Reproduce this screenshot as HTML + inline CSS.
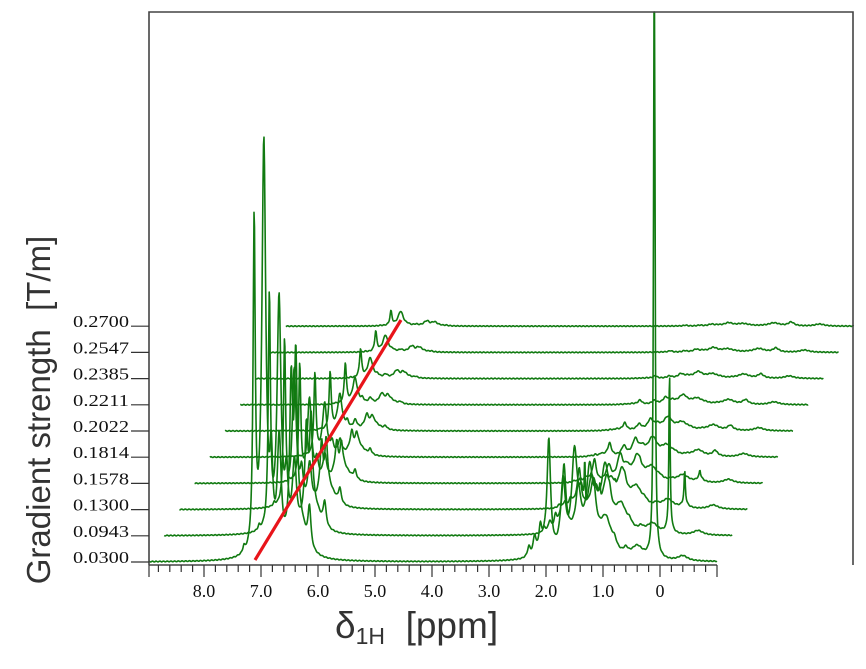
<!DOCTYPE html>
<html><head><meta charset="utf-8"><style>
html,body{margin:0;padding:0;background:#fff;}
svg{display:block;}
</style></head><body>
<svg id="s" width="866" height="669" xmlns="http://www.w3.org/2000/svg">
<rect x="0" y="0" width="866" height="669" fill="#fff"/>
<g id="traces" fill="none" stroke="#117a11" stroke-width="1.6" stroke-linejoin="round"></g>
<line x1="255" y1="560" x2="401" y2="320" stroke="#e8141a" stroke-width="3.2"/>
<g stroke="#444" stroke-width="1.6" fill="none">
<polyline points="149,565 149,12 853,12 853,565"/>
<line x1="149" y1="565" x2="717" y2="565"/>
</g>
<g id="ticks" stroke="#333" stroke-width="1.2"></g>
<g font-family="Liberation Serif, serif" font-size="18" fill="#111" text-anchor="middle">
<text x="204" y="597">8.0</text><text x="261" y="597">7.0</text><text x="318" y="597">6.0</text>
<text x="375" y="597">5.0</text><text x="432" y="597">4.0</text><text x="489" y="597">3.0</text>
<text x="546" y="597">2.0</text><text x="603" y="597">1.0</text><text x="660" y="597">0</text>
</g>
<g id="ylab" font-family="Liberation Serif, serif" font-size="17" fill="#111"></g>
<text transform="translate(50,410) rotate(-90)" text-anchor="middle" font-family="Liberation Sans, sans-serif" font-size="33" fill="#333">Gradient strength&#160;&#160;[T/m]</text>
<text x="335" y="638" font-family="Liberation Sans, sans-serif" font-size="37" fill="#333">δ<tspan font-size="23" dy="6">1H</tspan><tspan dy="-6">&#160;&#160;[ppm]</tspan></text>
</svg>
<script>
var NS="http://www.w3.org/2000/svg";
var tk=document.getElementById("ticks");
for(var i=0;i<=50;i++){var p=9.0-i*0.2;var x=660-57*p;if(x<149||x>718)continue;
 var maj=Math.abs(p-Math.round(p))<0.01;
 var l=document.createElementNS(NS,"line");l.setAttribute("x1",x);l.setAttribute("x2",x);
 l.setAttribute("y1",565);l.setAttribute("y2",maj?577:572);tk.appendChild(l);}
var l0=document.createElementNS(NS,"line");l0.setAttribute("x1",149);l0.setAttribute("x2",149);l0.setAttribute("y1",565);l0.setAttribute("y2",577);tk.appendChild(l0);
var labs=["0.0300","0.0943","0.1300","0.1578","0.1814","0.2022","0.2211","0.2385","0.2547","0.2700"];
var yl=document.getElementById("ylab");
var bases=[];
for(var k=0;k<10;k++){var b=562-k*26.2;bases.push(b);
 var t=document.createElementNS(NS,"text");t.setAttribute("x",73);t.setAttribute("y",b+1);t.setAttribute("textLength",56);t.setAttribute("lengthAdjust","spacingAndGlyphs");t.textContent=labs[k];yl.appendChild(t);
 var l=document.createElementNS(NS,"line");l.setAttribute("x1",131);l.setAttribute("x2",149);l.setAttribute("y1",b);l.setAttribute("y2",b);l.setAttribute("stroke","#333");l.setAttribute("stroke-width","1.2");tk.appendChild(l);}
var pk=[
 [7.12,330,0.022,0.35],[6.95,390,0.04,0.6],[6.82,80,0.03,0.5],[6.68,110,0.04,0.5],
 [6.47,150,0.03,0.55],[6.39,170,0.03,0.6],[6.15,40,0.03,0.5],[6.3,30,0.12,0.4],
 [7.3,6,0.02,0.3],[6.95,22,0.06,0.06],[6.5,10,0.06,0.1],[6.35,7,0.05,0.1],
 [2.3,10,0.03,0.6],[2.2,18,0.03,0.6],[2.1,22,0.03,0.6],[1.95,105,0.035,0.55],[2.0,15,0.1,0.5],
 [1.7,70,0.05,0.5],[1.5,95,0.06,0.45],[1.38,40,0.06,0.45],[1.32,50,0.008,1.2],[1.2,70,0.09,0.35],[1.15,8,0.02,0.5],
 [0.95,35,0.12,0.3],[0.8,8,0.05,0.4],[0.6,6,0.05,0.4],[0.4,12,0.12,0.15],
 [0.1,800,0.012,1.6],[0.1,6,0.06,0.05],[-0.4,5,0.1,0.1]
];
var g=document.getElementById("traces");
for(var k=0;k<10;k++){
 var b=bases[k],off=15.2*k,d="";
 for(var x=149;x<=717;x+=0.5){
  var p=(660-x)/57,y=0;
  for(var j=0;j<pk.length;j++){var q=pk[j];var h=q[1]*Math.exp(-q[3]*k);var u=(p-q[0])/q[2];y+=h/(1+u*u);}
  y+=Math.sin(x*1.7+k)*0.4;
  var Y=Math.max(12,b-y);
  d+=(d?"L":"M")+(x+off).toFixed(1)+" "+Y.toFixed(1);
 }
 var pa=document.createElementNS(NS,"path");pa.setAttribute("d",d);g.appendChild(pa);
}
</script>
</body></html>
